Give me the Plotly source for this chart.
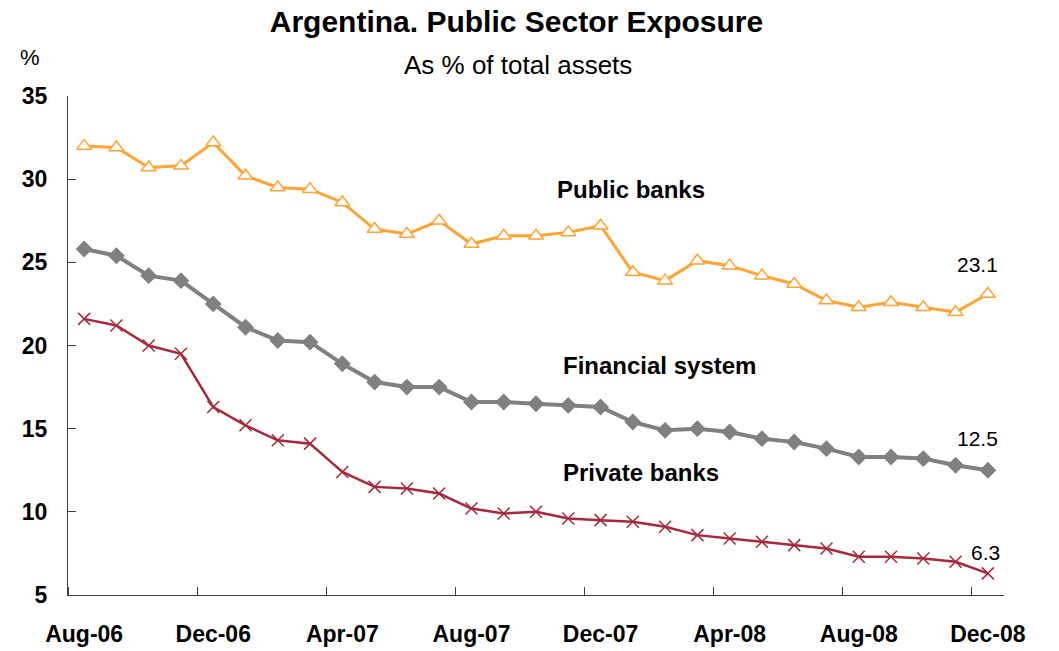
import plotly.graph_objects as go

# Monthly observations, Aug-06 .. Dec-08
months = ["Aug-06", "Sep-06", "Oct-06", "Nov-06", "Dec-06", "Jan-07", "Feb-07", "Mar-07",
          "Apr-07", "May-07", "Jun-07", "Jul-07", "Aug-07", "Sep-07", "Oct-07", "Nov-07",
          "Dec-07", "Jan-08", "Feb-08", "Mar-08", "Apr-08", "May-08", "Jun-08", "Jul-08",
          "Aug-08", "Sep-08", "Oct-08", "Nov-08", "Dec-08"]

public_banks = [32.0, 31.9, 30.7, 30.8, 32.2, 30.2, 29.5, 29.4, 28.6, 27.0, 26.7, 27.5,
                26.1, 26.6, 26.6, 26.8, 27.2, 24.4, 23.9, 25.1, 24.8, 24.2, 23.7, 22.7,
                22.3, 22.6, 22.3, 22.0, 23.1]
financial_system = [25.8, 25.4, 24.2, 23.9, 22.5, 21.1, 20.3, 20.2, 18.9, 17.8, 17.5, 17.5,
                    16.6, 16.6, 16.5, 16.4, 16.3, 15.4, 14.9, 15.0, 14.8, 14.4, 14.2, 13.8,
                    13.3, 13.3, 13.2, 12.8, 12.5]
private_banks = [21.6, 21.2, 20.0, 19.5, 16.3, 15.2, 14.3, 14.1, 12.4, 11.5, 11.4, 11.1,
                 10.2, 9.9, 10.0, 9.6, 9.5, 9.4, 9.1, 8.6, 8.4, 8.2, 8.0, 7.8,
                 7.3, 7.3, 7.2, 7.0, 6.3]

y_ticks = [5, 10, 15, 20, 25, 30, 35]

idx = list(range(len(months)))
label_idx = idx[::4]
label_txt = [months[i] for i in label_idx]

ORANGE = "#FFA333"
GRAY = "#808080"
RED = "#A8283C"
FONT = "Liberation Sans, Arial, sans-serif"

# plot-area geometry in pixels, used to place free text in paper units
W, H = 1059, 651
L, R, T, B = 68, 55, 96, 56
PW, PH = W - L - R, H - T - B


def px_to_paper(px_x, px_y):
    return (px_x - L) / PW, (H - B - px_y) / PH


fig = go.Figure()

fig.add_trace(go.Scatter(
    x=idx, y=public_banks, mode="lines+markers", name="Public banks",
    line=dict(color=ORANGE, width=3),
    marker=dict(symbol="triangle-up", size=13, color="white",
                line=dict(color=ORANGE, width=1.5)),
))
fig.add_trace(go.Scatter(
    x=idx, y=financial_system, mode="lines+markers", name="Financial system",
    line=dict(color=GRAY, width=4),
    marker=dict(symbol="diamond", size=13, color=GRAY),
))
fig.add_trace(go.Scatter(
    x=idx, y=private_banks, mode="lines+markers", name="Private banks",
    line=dict(color=RED, width=2.5),
    marker=dict(symbol="x-thin", size=12, color=RED,
                line=dict(color=RED, width=1.5)),
))

annotations = []
# end-of-period value labels
for series, xs, ys in [(public_banks, -10, 29), (financial_system, -10, 32),
                       (private_banks, -2, 21)]:
    annotations.append(dict(
        x=idx[-1], y=series[-1], xref="x", yref="y", text=f"{series[-1]:.1f}",
        showarrow=False, xshift=xs, yshift=ys,
        font=dict(family=FONT, size=21, color="black"),
    ))

# series names
for name, px_x, px_y in [("Public banks", 555, 189), ("Financial system", 561, 365),
                         ("Private banks", 561, 472)]:
    ax, ay = px_to_paper(px_x, px_y)
    annotations.append(dict(
        x=ax, y=ay, xref="paper", yref="paper",
        text=f"<b>{name}</b>", showarrow=False, xanchor="left", yanchor="middle",
        font=dict(family=FONT, size=24, color="black"),
    ))

sx, sy = px_to_paper(518, 64.5)
annotations.append(dict(
    x=sx, y=sy, xref="paper", yref="paper",
    text="As % of total assets", showarrow=False, xanchor="center", yanchor="middle",
    font=dict(family=FONT, size=26, color="black"),
))
ux, uy = px_to_paper(30, 58)
annotations.append(dict(
    x=ux, y=uy, xref="paper", yref="paper",
    text="%", showarrow=False, xanchor="center", yanchor="middle",
    font=dict(family=FONT, size=22, color="black"),
))

fig.update_layout(
    width=W, height=H,
    margin=dict(l=L, r=R, t=T, b=B),
    paper_bgcolor="white", plot_bgcolor="white",
    showlegend=False,
    title=dict(text="<b>Argentina. Public Sector Exposure</b>",
               x=516.5 / W, y=1 - 21 / H, xref="container", yref="container",
               xanchor="center", yanchor="middle",
               font=dict(family=FONT, size=30, color="black")),
    annotations=annotations,
    xaxis=dict(
        range=[-0.5, len(months) - 0.5], tickmode="array",
        tickvals=label_idx, ticktext=[f"<b>{t}</b>" for t in label_txt],
        ticks="", showgrid=False, zeroline=False, automargin=False,
        showline=True, linecolor="#404040", linewidth=1,
        tickfont=dict(family=FONT, size=23, color="black"),
        ticklabelstandoff=18,
        minor=dict(ticks="inside", tickmode="linear", tick0=3.5, dtick=4,
                   ticklen=8, tickcolor="#404040", tickwidth=1, showgrid=False),
    ),
    yaxis=dict(
        range=[5, 35], tickmode="array", tickvals=y_ticks,
        ticktext=[f"<b>{v}</b>" for v in y_ticks],
        ticks="inside", ticklen=8, tickcolor="#404040", tickwidth=1,
        showgrid=False, zeroline=False, automargin=False,
        showline=True, linecolor="#404040", linewidth=1,
        tickfont=dict(family=FONT, size=23, color="black"),
        ticklabelstandoff=15,
    ),
)

fig.write_html("out.html")
